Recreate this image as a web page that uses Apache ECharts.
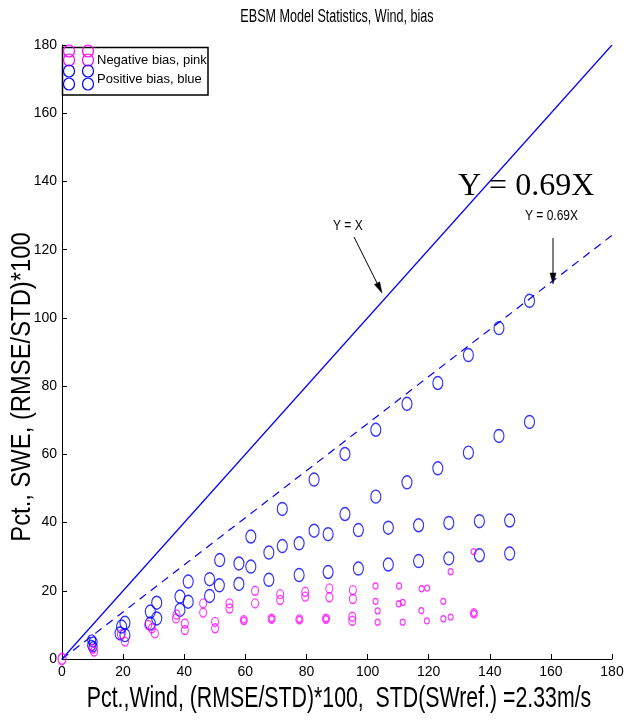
<!DOCTYPE html>
<html>
<head>
<meta charset="utf-8">
<script src="https://cdn.jsdelivr.net/npm/echarts@6/dist/echarts.min.js"></script>
<style>
html, body { margin: 0; padding: 0; background: #fff; overflow: hidden; }
#chart { width: 631px; height: 721px; }
</style>
</head>
<body>
<div id="chart"></div>
<script>
// Axis ticks (both axes run 0..180 in steps of 20)
const xTicks = [0, 20, 40, 60, 80, 100, 120, 140, 160, 180];
const yTicks = [0, 20, 40, 60, 80, 100, 120, 140, 160, 180];

// Reference lines
const unitSlope = 1.0;
const fitSlope = 0.69;

// Positive bias (blue) points: [wind pct, swe pct]
const positiveBias = [
  [10.2, 5.0], [20.6, 10.6], [31.0, 16.5], [41.3, 22.7], [51.6, 29.0], [61.8, 35.9],
  [72.1, 44.0], [82.5, 52.6], [92.6, 60.1], [102.7, 67.2], [112.9, 74.8], [123.0, 80.9],
  [133.0, 89.1], [143.0, 97.0], [153.0, 105.0],
  [10.2, 3.6], [20.6, 7.0], [31.0, 11.9], [41.3, 16.8], [51.5, 21.6], [61.8, 27.1],
  [72.1, 33.1], [82.5, 37.6], [92.6, 42.5], [102.7, 47.6], [112.9, 51.8], [123.0, 55.9],
  [133.0, 60.5], [143.0, 65.4], [153.0, 69.5],
  [9.7, 5.6], [19.5, 9.5], [28.9, 13.9], [38.6, 18.3], [48.3, 23.4], [57.9, 28.0],
  [67.7, 31.2], [77.6, 33.9], [87.1, 36.6], [97.0, 37.8], [106.8, 38.5], [116.7, 39.2],
  [126.6, 39.9], [136.6, 40.4], [146.5, 40.6],
  [9.7, 4.0], [19.0, 7.5], [28.9, 10.4], [38.6, 14.4], [48.3, 18.5], [57.9, 22.0],
  [67.7, 23.2], [77.6, 24.6], [87.1, 25.5], [97.0, 26.5], [106.8, 27.7], [116.7, 28.7],
  [126.6, 29.5], [136.6, 30.4], [146.5, 30.9]
];

// Negative bias (pink) points, larger rings
const negativeBiasLarge = [
  [10.0, 3.0], [10.5, 2.2], [19.3, 7.2], [20.6, 5.1], [28.2, 10.0], [29.4, 9.0], [30.4, 7.5],
  [37.3, 11.9], [37.5, 13.0], [40.2, 10.4], [40.2, 8.5], [46.2, 16.3], [46.2, 13.6],
  [50.1, 10.9], [50.1, 9.0], [54.8, 16.3], [54.8, 14.8], [59.5, 11.4], [63.2, 20.0], [63.2, 16.3],
  [68.6, 11.8], [71.4, 19.0], [71.4, 17.3], [77.7, 11.6], [79.6, 19.7], [79.6, 18.3],
  [86.4, 11.8], [87.5, 20.7], [87.5, 18.1], [95.0, 12.4], [95.0, 11.2], [95.2, 20.2], [95.2, 17.6],
  [134.8, 13.4]
];

// Negative bias (pink) points, smaller rings
const negativeBiasSmall = [
  [59.5, 11.4], [68.6, 11.8], [77.7, 11.6], [86.4, 11.8],
  [102.6, 21.4], [102.6, 16.9], [103.3, 14.1], [103.3, 10.8], [110.3, 21.4], [110.2, 16.2],
  [111.5, 16.6], [111.5, 10.8], [117.7, 20.6], [119.5, 20.8], [117.6, 14.2], [119.4, 11.2],
  [124.8, 16.9], [124.8, 11.8], [127.2, 12.3], [127.2, 25.6], [134.8, 13.4], [134.7, 31.5]
];

// Zero-error point
const negativeBiasOrigin = [[0, 0]];

const BLUE = '#0000ff';
const PINK = '#ff00ff';
const SANS = '"Liberation Sans", Arial, Helvetica, sans-serif';
const NARROW = '"Liberation Sans Narrow", "Liberation Sans", Arial, sans-serif';
const SERIF = '"Liberation Serif", "Times New Roman", serif';

const chart = echarts.init(document.getElementById('chart'), null, { renderer: 'canvas' });

function ring(color, width) {
  return { color: 'transparent', borderColor: color, borderWidth: width };
}

// Arrow: shaft plus filled head, in pixel space
function arrow(x1, y1, x2, y2) {
  const len = 11, half = 3;
  const dx = x2 - x1, dy = y2 - y1, d = Math.hypot(dx, dy);
  const ux = dx / d, uy = dy / d;
  const bx = x2 - ux * len, by = y2 - uy * len;
  return [
    { type: 'line', silent: true, z: 50,
      shape: { x1: x1, y1: y1, x2: bx, y2: by },
      style: { stroke: '#000', lineWidth: 1 } },
    { type: 'polygon', silent: true, z: 50,
      shape: { points: [[x2, y2], [bx - uy * half, by + ux * half], [bx + uy * half, by - ux * half]] },
      style: { fill: '#000', stroke: '#000', lineWidth: 0.5 } }
  ];
}

function legendRing(cx, cy, color) {
  return { type: 'ellipse', silent: true, z: 61,
    shape: { cx: cx, cy: cy, rx: 5.5, ry: 6 },
    style: { fill: 'transparent', stroke: color, lineWidth: 1.2 } };
}

const option = {
  animation: false,
  backgroundColor: '#fff',
  grid: { left: 62, right: 19, top: 45, bottom: 62, containLabel: false },
  xAxis: {
    type: 'value', min: xTicks[0], max: xTicks[xTicks.length - 1], interval: 20,
    splitLine: { show: false },
    axisLine: { show: true, onZero: false, lineStyle: { color: '#000', width: 1 } },
    axisTick: { show: true, inside: true, length: 5, lineStyle: { color: '#000' } },
    axisLabel: { color: '#000', fontFamily: NARROW, fontSize: 14, margin: 6 }
  },
  yAxis: {
    type: 'value', min: yTicks[0], max: yTicks[yTicks.length - 1], interval: 20,
    splitLine: { show: false },
    axisLine: { show: true, onZero: false, lineStyle: { color: '#000', width: 1 } },
    axisTick: { show: true, inside: true, length: 5, lineStyle: { color: '#000' } },
    axisLabel: { color: '#000', fontFamily: NARROW, fontSize: 14, margin: 5 }
  },
  series: [
    {
      name: 'Y = X', type: 'line', showSymbol: false, silent: true, z: 2,
      data: [[0, 0], [180, 180 * unitSlope]],
      lineStyle: { color: BLUE, width: 1.2 }
    },
    {
      name: 'Y = 0.69X', type: 'line', showSymbol: false, silent: true, z: 2,
      data: [[0, 0], [180, 180 * fitSlope]],
      lineStyle: { color: BLUE, width: 1.2, type: [8, 6] }
    },
    {
      name: 'Positive bias, blue', type: 'scatter', z: 3,
      data: positiveBias,
      symbol: 'circle',
      symbolSize: function (v) { return v[0] < 15 ? [8, 10] : [10, 13]; },
      itemStyle: ring(BLUE, 1.3)
    },
    {
      name: 'Negative bias, pink', type: 'scatter', z: 4,
      data: negativeBiasLarge,
      symbol: 'circle', symbolSize: [7, 9],
      itemStyle: ring(PINK, 1.2)
    },
    {
      name: 'Negative bias, pink (small)', type: 'scatter', z: 4,
      data: negativeBiasSmall,
      symbol: 'circle', symbolSize: [5, 6],
      itemStyle: ring(PINK, 1.2)
    },
    {
      name: 'Negative bias, pink (origin)', type: 'scatter', z: 4,
      data: negativeBiasOrigin,
      symbol: 'circle', symbolSize: [8, 11],
      itemStyle: ring(PINK, 1.5)
    }
  ],
  graphic: [
    // Title
    { type: 'text', x: 337, y: 17, scaleX: 0.7, silent: true,
      style: { text: 'EBSM Model Statistics, Wind, bias', fontFamily: SANS, fontSize: 18, fill: '#000',
               align: 'center', verticalAlign: 'middle', textAlign: 'center', textVerticalAlign: 'middle' } },
    // X axis title
    { type: 'text', x: 339, y: 699, scaleX: 0.71, silent: true,
      style: { text: 'Pct.,Wind, (RMSE/STD)*100,  STD(SWref.) =2.33m/s', fontFamily: SANS, fontSize: 30, fill: '#000',
               align: 'center', verticalAlign: 'middle', textAlign: 'center', textVerticalAlign: 'middle' } },
    // Y axis title
    { type: 'text', x: 22, y: 387, rotation: Math.PI / 2, scaleX: 0.85, silent: true,
      style: { text: 'Pct., SWE, (RMSE/STD)*100', fontFamily: SANS, fontSize: 28, fill: '#000',
               align: 'center', verticalAlign: 'middle', textAlign: 'center', textVerticalAlign: 'middle' } },
    // Line annotations
    { type: 'text', x: 458, y: 187, silent: true, z: 50,
      style: { text: 'Y = 0.69X', fontFamily: SERIF, fontSize: 32, fill: '#000',
               align: 'left', verticalAlign: 'middle', textAlign: 'left', textVerticalAlign: 'middle' } },
    { type: 'text', x: 525, y: 216, scaleX: 0.8, silent: true, z: 50,
      style: { text: 'Y = 0.69X', fontFamily: SANS, fontSize: 15, fill: '#000',
               align: 'left', verticalAlign: 'middle', textAlign: 'left', textVerticalAlign: 'middle' } },
    { type: 'text', x: 333, y: 226, scaleX: 0.8, silent: true, z: 50,
      style: { text: 'Y = X', fontFamily: SANS, fontSize: 15, fill: '#000',
               align: 'left', verticalAlign: 'middle', textAlign: 'left', textVerticalAlign: 'middle' } },
    ...arrow(354, 237, 382, 293),
    ...arrow(553, 238, 553, 284),
    // Legend box
    { type: 'rect', silent: true, z: 60,
      shape: { x: 62.5, y: 47.5, width: 145.5, height: 47.5 },
      style: { fill: '#fff', stroke: '#000', lineWidth: 1.5 } },
    legendRing(69, 51, PINK), legendRing(88, 51, PINK),
    legendRing(69, 60, PINK), legendRing(88, 60, PINK),
    legendRing(69, 71, BLUE), legendRing(88, 71, BLUE),
    legendRing(69, 84, BLUE), legendRing(88, 84, BLUE),
    { type: 'text', x: 97, y: 60, silent: true, z: 61,
      style: { text: 'Negative bias, pink', fontFamily: SANS, fontSize: 13, fill: '#000',
               align: 'left', verticalAlign: 'middle', textAlign: 'left', textVerticalAlign: 'middle' } },
    { type: 'text', x: 97, y: 79, silent: true, z: 61,
      style: { text: 'Positive bias, blue', fontFamily: SANS, fontSize: 13, fill: '#000',
               align: 'left', verticalAlign: 'middle', textAlign: 'left', textVerticalAlign: 'middle' } }
  ]
};

chart.setOption(option);
</script>
</body>
</html>
